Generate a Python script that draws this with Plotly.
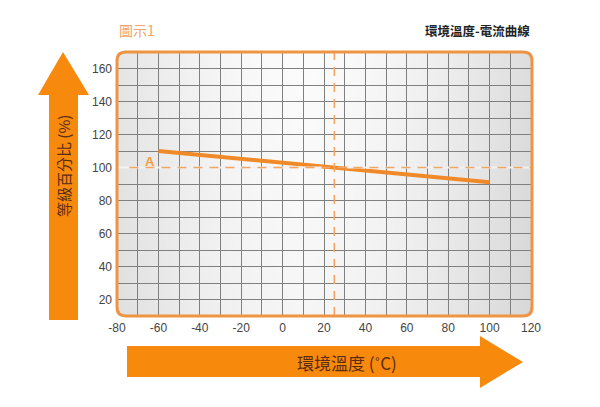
import base64, struct, zlib
import plotly.graph_objects as go

# ---- data ----
temp = [-60, 100]            # ambient temperature (°C)
rating = [110, 91]           # rating percentage (%)
ref_temp = 25                # dashed reference temperature
ref_rating = 100             # dashed reference rating
x_ticks = [-80, -60, -40, -20, 0, 20, 40, 60, 80, 100, 120]
y_ticks = [20, 40, 60, 80, 100, 120, 140, 160]
X_RANGE = [-80, 120]
Y_RANGE = [10, 170]
point_label = "A"

# ---- layout geometry (pixels, in window coordinates) ----
OFF = 8                      # default body margin of the page
W, H = 600 - OFF, 407 - OFF  # figure size
PL, PR, PT, PB = 117, 531, 52, 316   # plot area in window pixels
L, T = PL - OFF, PT - OFF
R, B = W - (PR - OFF), H - (PB - OFF)
PW, PH = PR - PL, PB - PT

def px(x, y):
    return (x - PL) / PW, (PB - y) / PH

ORANGE = "#f7890c"
FRAME = "#ee9445"
TXT_BROWN = "#5a2c14"
DASH_COLOR = "#f2a564"

# gradient background png
def grad_png():
    w, h = 256, 64
    rows = b""
    for j in range(h):
        row = b"\x00"
        for i in range(w):
            t = i / (w - 1)
            d = abs(t - 0.45) / 0.55
            v = int(252 - 30 * d ** 1.6 - 6 * (j / h))
            row += bytes([v, v, v])
        rows += row
    def chunk(tag, data):
        c = struct.pack(">I", len(data)) + tag + data
        return c + struct.pack(">I", zlib.crc32(tag + data) & 0xffffffff)
    png = b"\x89PNG\r\n\x1a\n" + chunk(b"IHDR", struct.pack(">IIBBBBB", w, h, 8, 2, 0, 0, 0))
    png += chunk(b"IDAT", zlib.compress(rows)) + chunk(b"IEND", b"")
    return "data:image/png;base64," + base64.b64encode(png).decode()

fig = go.Figure()
fig.add_trace(go.Scatter(x=temp, y=rating, mode="lines",
                         line=dict(color="#f08a28", width=4), hoverinfo="skip"))

shapes = []
# light mask over the gray gridline under the horizontal dashed line (skipping the data line crossing)
for x0, x1 in [(X_RANGE[0], ref_temp - 6), (ref_temp + 6, X_RANGE[1])]:
    shapes.append(dict(type="line", xref="x", yref="y", x0=x0, x1=x1, y0=ref_rating, y1=ref_rating,
                       line=dict(color="#f2f2f2", width=2), layer="above"))
shapes.append(dict(type="line", xref="paper", yref="y", x0=0.03, x1=1, y0=ref_rating, y1=ref_rating,
                   line=dict(color=DASH_COLOR, width=1.6, dash="9px,7px"), layer="above"))
shapes.append(dict(type="line", xref="x", yref="paper", x0=ref_temp, x1=ref_temp, y0=0, y1=1,
                   line=dict(color=DASH_COLOR, width=1.6, dash="9px,7px"), layer="above"))

# rounded frame
r = 9
def p(x, y):
    a, b = px(x, y)
    return f"{a:.5f},{b:.5f}"

def rrect(x0, y0, x1, y1, r):
    return (f"M {p(x0 + r, y0)} L {p(x1 - r, y0)} Q {p(x1, y0)} {p(x1, y0 + r)} "
            f"L {p(x1, y1 - r)} Q {p(x1, y1)} {p(x1 - r, y1)} L {p(x0 + r, y1)} "
            f"Q {p(x0, y1)} {p(x0, y1 - r)} L {p(x0, y0 + r)} Q {p(x0, y0)} {p(x0 + r, y0)} Z")

def corner_mask(cx, cy, sx, sy):
    return f"M {p(cx, cy)} L {p(cx + sx * r, cy)} Q {p(cx, cy)} {p(cx, cy + sy * r)} Z"

for cx, cy, sx, sy in [(PL, PT, 1, 1), (PR + 1, PT, -1, 1), (PL, PB, 1, -1), (PR + 1, PB, -1, -1)]:
    shapes.append(dict(type="path", xref="paper", yref="paper", path=corner_mask(cx, cy, sx, sy),
                       fillcolor="white", line=dict(width=0), layer="above"))
shapes.append(dict(type="path", xref="paper", yref="paper", path=rrect(PL, PT, PR + 1, PB, r),
                   line=dict(color=FRAME, width=3), layer="above"))

def poly(pts):
    return "M " + " L ".join(p(x, y) for x, y in pts) + " Z"

# vertical arrow
shapes.append(dict(type="path", xref="paper", yref="paper",
                   path=poly([(49, 320), (49, 95), (38, 95), (63, 52), (89, 95), (78, 95), (78, 320)]),
                   fillcolor=ORANGE, line=dict(width=0)))
# horizontal arrow
shapes.append(dict(type="path", xref="paper", yref="paper",
                   path=poly([(127, 346), (480, 346), (480, 336), (523, 362), (480, 388), (480, 377), (127, 377)]),
                   fillcolor=ORANGE, line=dict(width=0)))

def ann(x, y, text, size, color, xanchor="center", angle=0, family="Noto Sans CJK TC"):
    ax, ay = px(x, y)
    return dict(xref="paper", yref="paper", x=ax, y=ay, text=text, textangle=angle,
                xanchor=xanchor, yanchor="middle", showarrow=False,
                font=dict(size=size, color=color, family=family))

annotations = [
    ann(63, 166, "等級百分比 (%)", 15, TXT_BROWN, angle=-90),
    ann(347, 362, "環境溫度 (˚C)", 17, TXT_BROWN),
    ann(117, 30, "圖示1", 14, "#f2a36a", xanchor="left"),
    ann(532, 30, "<b>環境溫度-電流曲線</b>", 12.5, "#222222", xanchor="right"),
    dict(x=temp[0], y=rating[0], text=f"<b>{point_label}</b>", xanchor="right", yanchor="top",
         xshift=-1, yshift=-1, showarrow=False,
         font=dict(size=13, color="#f0a040", family="Liberation Sans")),
]

fig.update_layout(
    width=W, height=H, margin=dict(l=L, r=R, t=T, b=B),
    paper_bgcolor="white", plot_bgcolor="rgba(0,0,0,0)", showlegend=False,
    shapes=shapes, annotations=annotations,
    images=[dict(source=grad_png(), xref="paper", yref="paper", x=0, y=1, sizex=1, sizey=1,
                 sizing="stretch", layer="below", xanchor="left", yanchor="top")],
    font=dict(family="Liberation Sans", size=12, color="#444444"),
)
fig.update_xaxes(range=X_RANGE, tickvals=x_ticks, ticktext=[str(v) for v in x_ticks],
                 showgrid=True, gridcolor="#808080", gridwidth=1, zeroline=False, showline=False,
                 ticks="", ticklabelstandoff=3,
                 minor=dict(dtick=10, showgrid=True, gridcolor="#808080", gridwidth=1),
                 tickfont=dict(size=12, color="#444444"))
fig.update_yaxes(range=Y_RANGE, tickvals=y_ticks, ticktext=[str(v) for v in y_ticks],
                 showgrid=True, gridcolor="#808080", gridwidth=1, zeroline=False, showline=False,
                 ticks="", ticklabelstandoff=4,
                 minor=dict(dtick=10, showgrid=True, gridcolor="#808080", gridwidth=1),
                 tickfont=dict(size=12, color="#444444"))

fig.write_html("out.html")
